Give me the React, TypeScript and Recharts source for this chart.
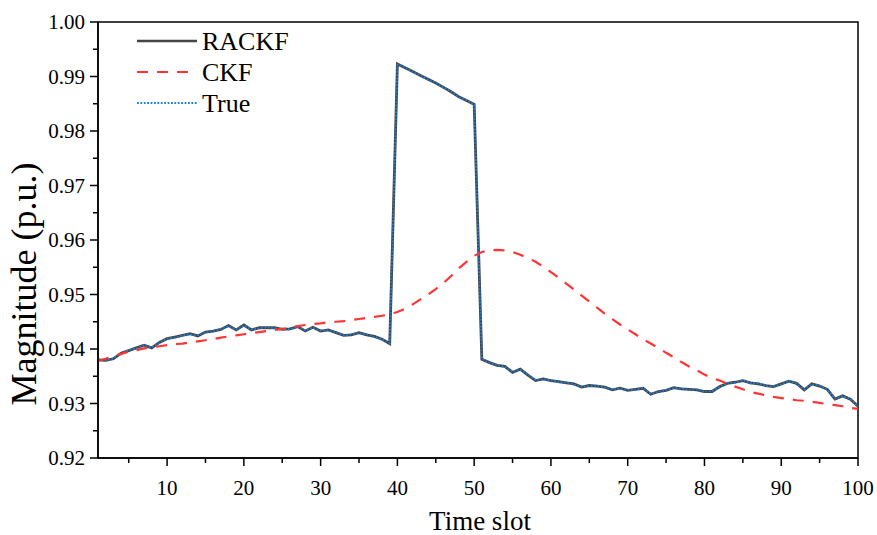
import React from 'react';
import { LineChart, Line, XAxis, YAxis, Legend, ReferenceArea } from 'recharts';

const timeSlots: number[] = Array.from({ length: 100 }, (_, i) => i + 1);

const rackf: number[] = [
  0.9380, 0.9379, 0.9382, 0.9392, 0.9397, 0.9402, 0.9407, 0.9402, 0.9412, 0.9419,
  0.9422, 0.9425, 0.9428, 0.9424, 0.9431, 0.9433, 0.9436, 0.9443, 0.9435, 0.9444,
  0.9435, 0.9439, 0.9439, 0.9439, 0.9436, 0.9437, 0.9441, 0.9433, 0.9440, 0.9433,
  0.9435, 0.9430, 0.9425, 0.9426, 0.9430, 0.9426, 0.9423, 0.9418, 0.9410, 0.9923,
  0.9916, 0.9909, 0.9902, 0.9895, 0.9888, 0.9880, 0.9872, 0.9863, 0.9856, 0.9849,
  0.9381, 0.9375, 0.9370, 0.9368, 0.9357, 0.9363, 0.9352, 0.9342, 0.9345, 0.9342,
  0.9340, 0.9338, 0.9336, 0.9330, 0.9333, 0.9332, 0.9330, 0.9325, 0.9328, 0.9324,
  0.9326, 0.9328, 0.9317, 0.9322, 0.9324, 0.9329, 0.9327, 0.9326, 0.9325, 0.9322,
  0.9322, 0.9331, 0.9337, 0.9339, 0.9342, 0.9338, 0.9336, 0.9333, 0.9331, 0.9336,
  0.9341, 0.9337, 0.9325, 0.9336, 0.9332, 0.9326, 0.9308, 0.9314, 0.9308, 0.9295,
];

const ckf: number[] = [
  0.9378, 0.9382, 0.9387, 0.9391, 0.9395, 0.9398, 0.9401, 0.9403, 0.9405, 0.9407,
  0.9409, 0.9410, 0.9412, 0.9414, 0.9416, 0.9418, 0.9421, 0.9423, 0.9425, 0.9427,
  0.9429, 0.9431, 0.9433, 0.9435, 0.9437, 0.9439, 0.9442, 0.9444, 0.9446, 0.9447,
  0.9449, 0.9450, 0.9451, 0.9453, 0.9455, 0.9457, 0.9459, 0.9461, 0.9464, 0.9468,
  0.9474, 0.9482, 0.9491, 0.9500, 0.9510, 0.9521, 0.9534, 0.9548, 0.9560, 0.9571,
  0.9578, 0.9581, 0.9582, 0.9581, 0.9578, 0.9573, 0.9567, 0.9560, 0.9551, 0.9541,
  0.9531, 0.9520, 0.9509, 0.9498, 0.9487, 0.9476, 0.9465, 0.9455, 0.9445, 0.9436,
  0.9427, 0.9418, 0.9410, 0.9402, 0.9393, 0.9385, 0.9376, 0.9368, 0.9361, 0.9353,
  0.9347, 0.9342, 0.9336, 0.9331, 0.9326, 0.9321, 0.9318, 0.9315, 0.9312, 0.9310,
  0.9308, 0.9306, 0.9305, 0.9303, 0.9301, 0.9299, 0.9297, 0.9295, 0.9292, 0.9290,
];

const truth: number[] = [
  0.9381, 0.9379, 0.9383, 0.9391, 0.9398, 0.9401, 0.9407, 0.9403, 0.9411, 0.9419,
  0.9421, 0.9425, 0.9427, 0.9425, 0.9430, 0.9433, 0.9437, 0.9442, 0.9436, 0.9443,
  0.9436, 0.9438, 0.9440, 0.9438, 0.9437, 0.9436, 0.9441, 0.9434, 0.9439, 0.9434,
  0.9434, 0.9431, 0.9425, 0.9427, 0.9429, 0.9427, 0.9422, 0.9418, 0.9411, 0.9922,
  0.9917, 0.9908, 0.9903, 0.9894, 0.9889, 0.9879, 0.9873, 0.9862, 0.9857, 0.9848,
  0.9382, 0.9374, 0.9371, 0.9367, 0.9358, 0.9362, 0.9353, 0.9343, 0.9344, 0.9343,
  0.9339, 0.9339, 0.9335, 0.9331, 0.9332, 0.9333, 0.9329, 0.9326, 0.9327, 0.9325,
  0.9325, 0.9329, 0.9318, 0.9321, 0.9325, 0.9328, 0.9328, 0.9325, 0.9326, 0.9321,
  0.9323, 0.9330, 0.9338, 0.9338, 0.9343, 0.9337, 0.9337, 0.9332, 0.9332, 0.9335,
  0.9342, 0.9336, 0.9326, 0.9335, 0.9333, 0.9325, 0.9309, 0.9313, 0.9309, 0.9294,
];

const xTicks: number[] = [5, 10, 15, 20, 25, 30, 35, 40, 45, 50, 55, 60, 65, 70, 75, 80, 85, 90, 95, 100];
const yTicks: number[] = [0.92, 0.925, 0.93, 0.935, 0.94, 0.945, 0.95, 0.955, 0.96, 0.965, 0.97, 0.975, 0.98, 0.985, 0.99, 0.995, 1.0];

const seriesNames = { rackf: 'RACKF', ckf: 'CKF', truth: 'True' };

const data = timeSlots.map((t, i) => ({ t, rackf: rackf[i], ckf: ckf[i], truth: truth[i] }));

const FONT = '"Liberation Serif", "Times New Roman", serif';

const XTick = (props: any) => {
  const { x, y, payload } = props;
  const v = payload.value as number;
  const major = v % 10 === 0;
  return (
    <g>
      <line x1={x} y1={y} x2={x} y2={y + (major ? 8 : 5)} stroke="#000" strokeWidth={1.5} />
      {major && (
        <text x={x} y={y + 37} textAnchor="middle" fontFamily={FONT} fontSize={21} fill="#000">
          {v}
        </text>
      )}
    </g>
  );
};

const YTick = (props: any) => {
  const { x, y, payload } = props;
  const v = payload.value as number;
  const major = Math.round(v * 1000) % 10 === 0;
  return (
    <g>
      <line x1={x} y1={y} x2={x - (major ? 8 : 5)} y2={y} stroke="#000" strokeWidth={1.5} />
      {major && (
        <text x={x - 13} y={y + 7} textAnchor="end" fontFamily={FONT} fontSize={21} fill="#000">
          {v.toFixed(2)}
        </text>
      )}
    </g>
  );
};

const LegendContent = () => {
  const items = [
    { name: seriesNames.rackf, color: '#454545', dash: undefined, w: 2.5 },
    { name: seriesNames.ckf, color: '#ff3535', dash: '11 9', w: 2.2 },
    { name: seriesNames.truth, color: '#1a80e0', dash: '1.8 1.6', w: 1.8 },
  ];
  return (
    <svg width={180} height={95} style={{ display: 'block' }}>
      {items.map((it, i) => (
        <g key={it.name}>
          <line x1={2} x2={62} y1={14 + i * 31} y2={14 + i * 31} stroke={it.color} strokeWidth={it.w} strokeDasharray={it.dash} />
          <text x={67} y={23 + i * 31} fontFamily={FONT} fontSize={26} fill="#000">{it.name}</text>
        </g>
      ))}
    </svg>
  );
};

export default function App() {
  return (
    <div style={{ position: 'absolute', left: 0, top: 0, background: '#fff' }}>
      <LineChart width={877} height={535} data={data} margin={{ top: 22, right: 19, bottom: 0, left: 0 }}>
        <XAxis
          dataKey="t"
          type="number"
          domain={[1, 100]}
          ticks={xTicks}
          tick={<XTick />}
          tickSize={0}
          tickMargin={0}
          tickLine={false}
          axisLine={{ stroke: '#000', strokeWidth: 1.5 }}
          height={77}
          interval={0}
          allowDataOverflow
          label={{
            content: () => (
              <text x={480} y={530} textAnchor="middle" fontFamily={FONT} fontSize={27} fill="#000">Time slot</text>
            ),
          }}
        />
        <YAxis
          type="number"
          domain={[0.92, 1.0]}
          ticks={yTicks}
          tick={<YTick />}
          tickSize={0}
          tickMargin={0}
          tickLine={false}
          axisLine={{ stroke: '#000', strokeWidth: 1.5 }}
          width={98}
          interval={0}
          allowDataOverflow
          label={{
            content: () => (
              <text x={36} y={284} transform="rotate(-90 36 284)" textAnchor="middle" fontFamily={FONT} fontSize={36} fill="#000">Magnitude (p.u.)</text>
            ),
          }}
        />
        <ReferenceArea x1={1} x2={100} y1={0.92} y2={1.0} fill="none" stroke="#000" strokeWidth={1.5} ifOverflow="visible" />
        <Legend
          layout="horizontal"
          verticalAlign="middle"
          align="center"
          content={<LegendContent />}
          wrapperStyle={{ position: 'absolute', left: 135, top: 27, width: 180, height: 95 }}
        />
        <Line dataKey="rackf" name={seriesNames.rackf} type="linear" stroke="#454545" strokeWidth={2.8} dot={false} isAnimationActive={false} />
        <Line dataKey="truth" name={seriesNames.truth} type="linear" stroke="#1a80e0" strokeWidth={1.8} strokeDasharray="1.8 1.6" dot={false} isAnimationActive={false} />
        <Line dataKey="ckf" name={seriesNames.ckf} type="linear" stroke="#ff3535" strokeWidth={2.2} strokeDasharray="11 9" dot={false} isAnimationActive={false} />
      </LineChart>
    </div>
  );
}
